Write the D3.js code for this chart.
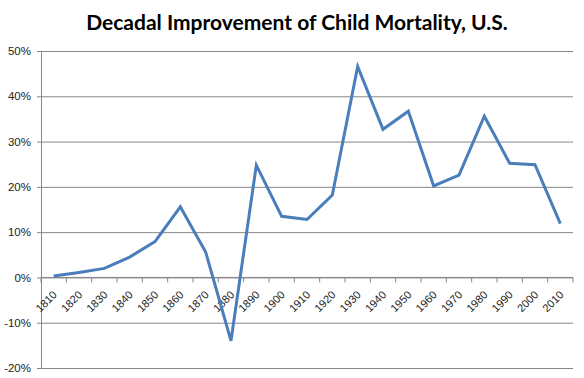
<!DOCTYPE html>
<html><head><meta charset="utf-8">
<script src="https://cdn.jsdelivr.net/npm/d3@7"></script>
<style>body{margin:0;background:#fff}svg{display:block}</style>
</head><body><svg id="c" width="584" height="378"></svg>
<script>
const title = "Decadal Improvement of Child Mortality, U.S.";
const decades = ["1810","1820","1830","1840","1850","1860","1870","1880","1890","1900","1910","1920","1930","1940","1950","1960","1970","1980","1990","2000","2010"];
const improvement = [0.3,1.1,2.0,4.5,7.9,15.6,5.6,-14.0,24.8,13.5,12.8,18.2,46.6,32.7,36.7,20.2,22.6,35.6,25.2,24.9,11.9];
const yTicks = [-20,-10,0,10,20,30,40,50];

const svg = d3.select("#c");
const L = 41, R = 573, T = 51, B = 368;
const x = d3.scaleBand().domain(decades).range([L, R]);
const y = d3.scaleLinear().domain([-20, 50]).range([B, T]);
const grid = "#868686";

svg.append("text").attr("x", 297).attr("y", 30).attr("text-anchor","middle")
  .attr("font-family","Lato, 'Open Sans', sans-serif").attr("font-weight","bold")
  .attr("font-size", 21).attr("fill","#000").text(title);

// gridlines + y axis
const ya = svg.append("g").attr("transform", `translate(${L},0)`)
  .call(d3.axisLeft(y).tickValues(yTicks).tickFormat(d => d + "%").tickSize(-(R - L)).tickSizeOuter(0));
ya.select(".domain").attr("stroke", grid);
ya.selectAll(".tick line").attr("stroke", grid).attr("x1", -4);
ya.selectAll(".tick text").attr("x", -10).attr("font-family","'Liberation Sans', Arial, sans-serif")
  .attr("font-size", 11.5).attr("fill","#222");

// x axis at zero
const xa = svg.append("g").attr("transform", `translate(0,${y(0)})`)
  .call(d3.axisBottom(x).tickSize(0).tickSizeOuter(0));
xa.select(".domain").remove();
xa.append("line").attr("x1", L).attr("x2", R).attr("stroke", grid);
const bounds = decades.map(d => x(d)).concat([R]);
xa.selectAll("line.tk").data(bounds).enter().append("line").attr("class","tk")
  .attr("x1", d => d).attr("x2", d => d).attr("y1", 0).attr("y2", 5).attr("stroke", grid);
xa.selectAll(".tick text")
  .attr("font-family","'Liberation Sans', Arial, sans-serif").attr("font-size", 11).attr("fill","#222")
  .attr("text-anchor","end").attr("dy", 0).attr("y", 0)
  .attr("transform", "translate(4,18) rotate(-45)");

const line = d3.line().x((d, i) => x(decades[i]) + x.bandwidth() / 2).y(d => y(d));
svg.append("path").datum(improvement).attr("d", line).attr("fill","none")
  .attr("stroke","#4a7ebb").attr("stroke-width", 3).attr("stroke-linejoin","miter");
</script></body></html>
